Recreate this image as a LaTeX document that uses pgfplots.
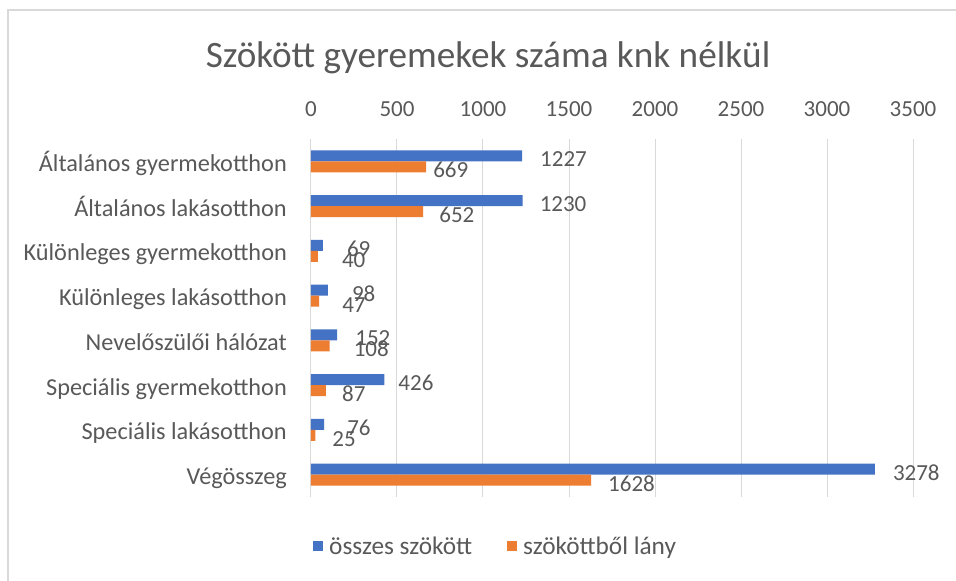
\documentclass[border=0pt]{standalone}
\usepackage{pgfplots}
\pgfplotsset{compat=1.18}
\usepackage{pgfplotstable}
\usepackage{fontspec}
\setmainfont{Carlito}
\definecolor{xblue}{HTML}{4472C4}
\definecolor{xorange}{HTML}{ED7D31}
\definecolor{xtext}{HTML}{595959}
\definecolor{xgrid}{HTML}{D9D9D9}
\pgfplotstableread{
c v dx
0 1227 18
1 1230 17
2 69 24
3 98 24
4 152 18
5 426 14
6 76 23
7 3278 18
}\tblA
\pgfplotstableread{
c v dx
0 669 7
1 652 16
2 40 24
3 47 23
4 108 24
5 87 16
6 25 17
7 1628 17
}\tblB
\begin{document}
\begin{tikzpicture}[x=1pt,y=1pt]
\path[use as bounding box,fill=white] (0,0) rectangle (956,581);
\draw[xgrid,line width=1.2pt] (8,0) -- (8,571) -- (956,571);
\node[anchor=base,text=xtext,font=\fontsize{37.2}{40}\selectfont] at (488,513) {Szökött gyeremekek  száma knk nélkül};
\begin{axis}[
  at={(311pt,84pt)}, anchor=south west,
  scale only axis, width=602pt, height=358pt,
  xbar, bar width=11pt,
  xmin=0, xmax=3500, ymin=-0.5, ymax=7.5,
  y dir=reverse,
  xtick={0,500,...,3500},
  ytick={0,...,7},
  yticklabels={Általános gyermekotthon,Általános lakásotthon,Különleges gyermekotthon,Különleges lakásotthon,Nevelőszülői hálózat,Speciális gyermekotthon,Speciális lakásotthon,Végösszeg},
  xticklabel pos=right,
  major tick length=0pt,
  axis line style={draw=none},
  xmajorgrids, major grid style={xgrid,line width=1pt},
  /pgf/number format/assume math mode=true,
  /pgf/number format/1000 sep={},
  tick label style={font=\fontsize{23}{26}\selectfont,text=xtext,inner sep=0pt},
  xticklabel style={anchor=south,yshift=22pt},
  yticklabel style={font=\fontsize{24.3}{27}\selectfont,anchor=base east,xshift=-24pt,yshift=-10pt},
  nodes near coords,
  nodes near coords style={font=\fontsize{23}{26}\selectfont,text=xtext,inner sep=0pt,anchor=base west,xshift=\dx pt,yshift=-11pt},
  every node near coord/.append style={/pgf/number format/1000 sep={}},
  legend columns=2,
  legend style={at={(0.0033,-0.137)},anchor=west,draw=none,fill=none,inner sep=0pt,
    font=\fontsize{25.3}{28}\selectfont,text=xtext,
    nodes={inner sep=0pt},
    /tikz/every even column/.append style={column sep=35pt},
    /tikz/every odd column/.append style={column sep=6pt}},
  legend image code/.code={\fill[#1] (0pt,-5pt) rectangle (10pt,5pt);},
]
\addplot[fill=xblue,draw=none,bar shift=5.5pt,visualization depends on={\thisrow{dx}\as\dx}] table[x=v,y=c] {\tblA};
\addplot[fill=xorange,draw=none,bar shift=-5.5pt,visualization depends on={\thisrow{dx}\as\dx}] table[x=v,y=c] {\tblB};
\legend{összes szökött,szököttből lány}
\end{axis}
\end{tikzpicture}
\end{document}
